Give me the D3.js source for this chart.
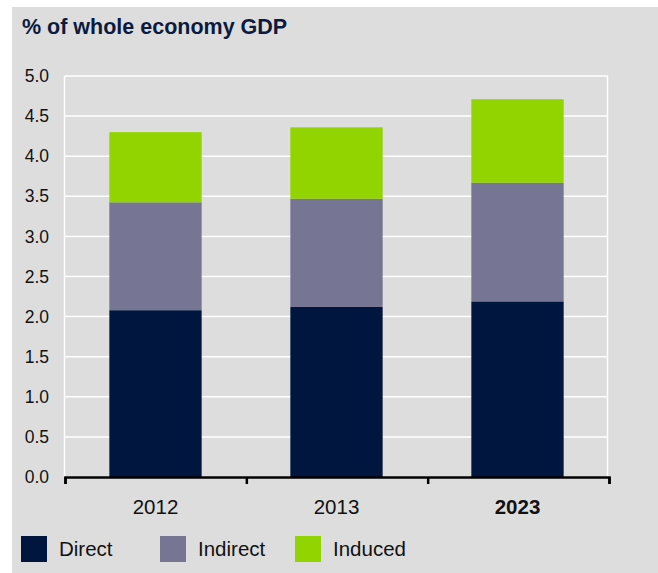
<!DOCTYPE html>
<html>
<head>
<meta charset="utf-8">
<script src="https://cdn.jsdelivr.net/npm/d3@7"></script>
<style>
  body { margin: 0; background: #fff; }
  text { font-family: "Liberation Sans", Arial, sans-serif; }
</style>
</head>
<body>
<svg id="chart" width="658" height="573"></svg>
<script>
// data
let years = ["2012", "2013", "2023"]
let direct = [2.08, 2.12, 2.19]
let indirect = [1.345, 1.35, 1.48]
let induced = [0.875, 0.89, 1.04]
let seriesNames = ["Direct", "Indirect", "Induced"]
let yTicks = [0, 0.5, 1, 1.5, 2, 2.5, 3, 3.5, 4, 4.5, 5]

let colors = ["#00163f", "#767694", "#92d400"]

let svg = d3.select("#chart")

// grey panel
svg.append("rect").attr("x", 12).attr("y", 7).attr("width", 646).attr("height", 566).attr("fill", "#dddddd")

svg.append("text")
	.attr("x", 22).attr("y", 33.5)
	.attr("font-size", 21.5).attr("font-weight", "bold")
	.attr("fill", "#0b1a3e")
	.text("% of whole economy GDP")

let table = years.map((y, i) => ({year: y, Direct: direct[i], Indirect: indirect[i], Induced: induced[i]}))
let stacked = d3.stack().keys(seriesNames)(table)

let x = d3.scaleBand().domain(years).range([65, 608]).paddingInner(0.49).paddingOuter(0.245)
let yScale = d3.scaleLinear().domain([0, 5]).range([477, 76])

// gridlines
svg.append("g").selectAll("line").data(yTicks).join("line")
	.attr("x1", 65).attr("x2", 608)
	.attr("y1", d => yScale(d)).attr("y2", d => yScale(d))
	.attr("stroke", "#ffffff").attr("stroke-width", 1.5)

// side borders
svg.append("line").attr("x1", 64.5).attr("x2", 64.5).attr("y1", yScale(5)).attr("y2", yScale(0)).attr("stroke", "#fff").attr("stroke-width", 1.5)
svg.append("line").attr("x1", 607.5).attr("x2", 607.5).attr("y1", yScale(5)).attr("y2", yScale(0)).attr("stroke", "#fff").attr("stroke-width", 1.5)

// bars
svg.append("g").selectAll("g").data(stacked).join("g")
	.attr("fill", (d, i) => colors[i])
	.selectAll("rect").data(d => d).join("rect")
	.attr("x", d => x(d.data.year))
	.attr("width", x.bandwidth())
	.attr("y", d => yScale(d[1]))
	.attr("height", d => yScale(d[0]) - yScale(d[1]))

// y axis labels
let yAxis = svg.append("g")
	.attr("transform", "translate(64,0)")
	.call(d3.axisLeft(yScale).tickValues(yTicks).tickFormat(d3.format(".1f")).tickSize(0).tickPadding(15))
yAxis.select(".domain").remove()
yAxis.selectAll("text").attr("font-size", 17.5).attr("fill", "#111").attr("font-family", "Liberation Sans, Arial, sans-serif")

// x axis
let xPos = d3.scaleLinear().domain([0, 3]).range([65, 609])
let xAxis = svg.append("g")
	.attr("transform", "translate(0," + yScale(0) + ")")
	.call(d3.axisBottom(xPos).ticks(3).tickFormat("").tickSize(7).tickSizeOuter(7))
xAxis.select(".domain").attr("stroke", "#000").attr("stroke-width", 2.5)
xAxis.selectAll(".tick line").attr("stroke", "#000").attr("stroke-width", 2.5)

svg.append("g").selectAll("text").data(years).join("text")
	.attr("x", d => x(d) + x.bandwidth() / 2)
	.attr("y", 513.5)
	.attr("text-anchor", "middle")
	.attr("font-size", 20.5)
	.attr("font-weight", (d, i) => i == 2 ? "bold" : "normal")
	.attr("fill", "#111")
	.text(d => d)

// legend
let legendX = [21, 160, 295]
let legend = svg.append("g").selectAll("g").data(seriesNames).join("g")
	.attr("transform", (d, i) => "translate(" + legendX[i] + ",536)")
legend.append("rect").attr("width", 26).attr("height", 26).attr("fill", (d, i) => colors[i])
legend.append("text").attr("x", 38).attr("y", 19.5).attr("font-size", 20.5).attr("fill", "#111").text(d => d)
</script>
</body>
</html>
